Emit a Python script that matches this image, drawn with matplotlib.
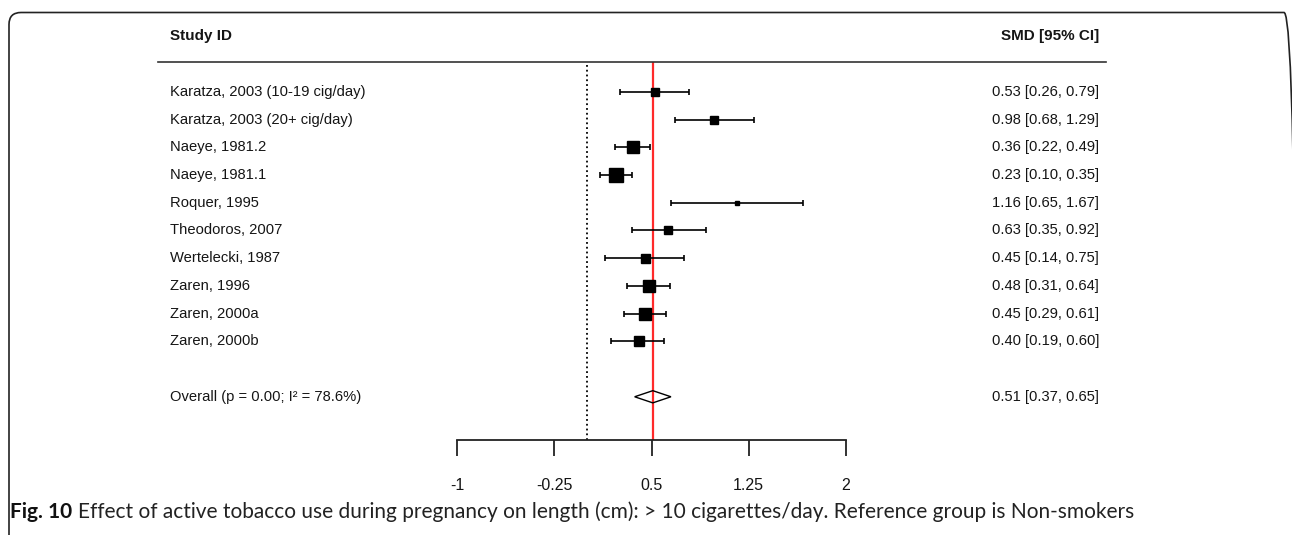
import numpy as np
import matplotlib
matplotlib.use("Agg")
import matplotlib.pyplot as plt
from matplotlib.lines import Line2D
from matplotlib.patches import FancyBboxPatch, Polygon
from matplotlib.transforms import blended_transform_factory

# study data (SMD with 95% CI)
studies = ["Karatza, 2003 (10-19 cig/day)", "Karatza, 2003 (20+ cig/day)",
           "Naeye, 1981.2", "Naeye, 1981.1", "Roquer, 1995", "Theodoros, 2007",
           "Wertelecki, 1987", "Zaren, 1996", "Zaren, 2000a", "Zaren, 2000b"]
smd = [0.53, 0.98, 0.36, 0.23, 1.16, 0.63, 0.45, 0.48, 0.45, 0.40]
ci_low = [0.26, 0.68, 0.22, 0.10, 0.65, 0.35, 0.14, 0.31, 0.29, 0.19]
ci_high = [0.79, 1.29, 0.49, 0.35, 1.67, 0.92, 0.75, 0.64, 0.61, 0.60]
# relative study weights
weights = [8.7, 7.3, 11.7, 13.3, 4.7, 8.7, 9.0, 12.0, 11.7, 10.0]

overall_label = "Overall (p = 0.00; I² = 78.6%)"
overall_est, overall_low, overall_high = 0.51, 0.37, 0.65

xticks = [-1, -0.25, 0.5, 1.25, 2]
xtick_labels = ["-1", "-0.25", "0.5", "1.25", "2"]

plt.rcParams['font.family'] = ['Liberation Sans', 'DejaVu Sans']
fs = 10.6
txt_col = '#151515'

W, H = 1292, 535
fig = plt.figure(figsize=(W / 100, H / 100), dpi=100)
ax = fig.add_axes([457 / W, (H - 440) / H, 389 / W, 378 / H])

rows = np.arange(1, len(studies) + 1)
overall_row = len(studies) + 2

ax.set_xlim(-1, 2)
ax.set_ylim(13.56, -0.08)

# reference lines
ax.axvline(0, color='black', ls=':', lw=1.3)
ax.axvline(overall_est, color='#ff2a2a', lw=1.6)

# CIs and boxes
ax.errorbar(smd, rows, xerr=[np.array(smd) - np.array(ci_low), np.array(ci_high) - np.array(smd)],
            fmt='none', ecolor='black', elinewidth=1.2, capsize=2.2, capthick=1.2)
for x, y, w in zip(smd, rows, weights):
    ax.plot(x, y, marker='s', color='black', markersize=w * 0.72, zorder=3)

# overall diamond
dh = 0.22
ax.add_patch(Polygon([[overall_low, overall_row], [overall_est, overall_row - dh],
                      [overall_high, overall_row], [overall_est, overall_row + dh]],
                     closed=True, fill=False, edgecolor='black', lw=1.0, zorder=3))

# axis styling
for s in ['left', 'right', 'top']:
    ax.spines[s].set_visible(False)
ax.spines['bottom'].set_linewidth(1.3)
ax.spines['bottom'].set_color('#222222')
ax.set_yticks([])
ax.set_xticks(xticks)
ax.set_xticklabels(xtick_labels)
ax.tick_params(axis='x', length=11.5, width=1.3, color='#222222', pad=16,
               labelsize=11.5, labelcolor=txt_col)

# left and right text columns
tr = blended_transform_factory(fig.transFigure, ax.transData)
for y, name, m, lo, hi in zip(rows, studies, smd, ci_low, ci_high):
    ax.text(170 / W, y, name, transform=tr, ha='left', va='center', fontsize=fs,
            color=txt_col, clip_on=False)
    ax.text(1099 / W, y, f"{m:.2f} [{lo:.2f}, {hi:.2f}]", transform=tr, ha='right',
            va='center', fontsize=fs, color=txt_col, clip_on=False)
ax.text(170 / W, overall_row, overall_label, transform=tr, ha='left', va='center',
        fontsize=fs, color=txt_col, clip_on=False)
ax.text(1099 / W, overall_row, f"{overall_est:.2f} [{overall_low:.2f}, {overall_high:.2f}]",
        transform=tr, ha='right', va='center', fontsize=fs, color=txt_col, clip_on=False)

# header
fig.text(170 / W, (H - 36) / H, "Study ID", ha='left', va='center', fontsize=11,
         fontweight='bold', color=txt_col)
fig.text(1099 / W, (H - 36) / H, "SMD [95% CI]", ha='right', va='center', fontsize=11,
         fontweight='bold', color=txt_col)
fig.add_artist(Line2D([158 / W, 1106 / W], [(H - 62) / H, (H - 62) / H],
                      transform=fig.transFigure, color='#333333', lw=1.2))

# outer frame (right edge sits just past the canvas)
fig.add_artist(FancyBboxPatch((0.09, -0.5), 12.87, 5.725,
                              boxstyle="round,pad=0,rounding_size=0.12",
                              transform=fig.dpi_scale_trans, fill=False,
                              edgecolor='#222222', lw=1.2))

# caption
cap_fam = ['Lato', 'DejaVu Sans']
cap = fig.text(10 / W, (H - 512) / H, "Fig. 10", ha='left', va='center', fontsize=15,
               fontweight='bold', family=cap_fam, color='#111111')
ax.annotate("Effect of active tobacco use during pregnancy on length (cm): > 10 cigarettes/day. "
            "Reference group is Non-smokers",
            xy=(1, 0), xycoords=cap, xytext=(4, 0), textcoords='offset points',
            ha='left', va='bottom', fontsize=15, family=cap_fam,
            color='#222222', annotation_clip=False)

fig.savefig("out.png", dpi=100)
